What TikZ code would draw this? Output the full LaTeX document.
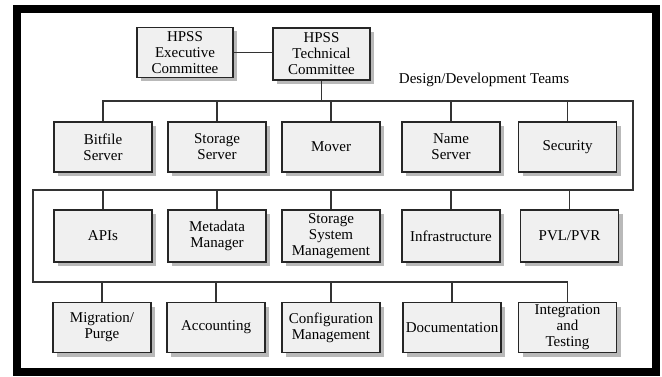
\documentclass[tikz,border=0pt]{standalone}
\usepackage{fontspec}
\setmainfont{Liberation Serif}
\usepackage{tikz}
\usetikzlibrary{shadows}

\begin{document}
\begin{tikzpicture}[x=1pt, y=-1pt,
  unit/.style={draw=black!85, line width=1.3pt, rectangle, fill=gray!12,
    minimum width=98pt, minimum height=50pt, inner sep=2pt, align=center,
    font=\fontsize{15}{16}\selectfont,
    drop shadow={shadow xshift=4pt, shadow yshift=-4pt, fill=gray!55, opacity=1}},
  link/.style={draw=black!80, line width=1.1pt}]
  \useasboundingbox (0,0) rectangle (662,377);
  % Frame
  \draw[line width=8.5pt] (17,9) rectangle (656,372);

  % Committees
  \node[unit, minimum width=96pt] (exec) at (185,52.5) {HPSS\\Executive\\Committee};
  \node[unit, minimum width=97pt, minimum height=52pt] (tech) at (321.5,54) {HPSS\\Technical\\Committee};
  \node[font=\fontsize{15}{16}\selectfont] (teams) at (484,80) {Design/Development Teams};

  % First row of teams
  \node[unit] (bitfile) at (103,147) {Bitfile\\Server};
  \node[unit] (storage) at (217,147) {Storage\\Server};
  \node[unit] (mover) at (331,147) {Mover};
  \node[unit] (name) at (451,147) {Name\\Server};
  \node[unit] (security) at (567.5,147) {Security};

  % Second row
  \node[unit, minimum height=52pt] (apis) at (103,236) {APIs};
  \node[unit, minimum height=52pt] (metadata) at (217,236) {Metadata\\Manager};
  \node[unit, minimum height=52pt] (ssm) at (331,236) {Storage\\System\\Management};
  \node[unit, minimum height=52pt] (infra) at (451,236) {Infrastructure};
  \node[unit, minimum height=52pt] (pvl) at (569.5,236) {PVL/PVR};

  % Third row
  \node[unit] (migration) at (102,327.5) {Migration/\\Purge};
  \node[unit] (accounting) at (216,327.5) {Accounting};
  \node[unit] (config) at (331,327.5) {Configuration\\Management};
  \node[unit] (docs) at (452,327.5) {Documentation};
  \node[unit] (integ) at (567.5,327.5) {Integration\\and\\Testing};

  % Bus corners
  \coordinate (busNE) at (633,101);
  \coordinate (busSE) at (633,190);
  \coordinate (busSW) at (33,190);
  \coordinate (busLow) at (33,282);

  % Relationships
  \draw[link] (exec.east) -- (exec.east -| tech.west);
  \draw[link] (tech.south) -- (tech.south |- busNE);
  \draw[link] (bitfile.north) |- (busNE) -- (busSE) -- (busSW) -- (busLow) -| (integ.north);
  \foreach \b in {storage, mover, name, security}
    \draw[link] (\b.north) -- (\b.north |- busNE);
  \foreach \b in {apis, metadata, ssm, infra, pvl}
    \draw[link] (\b.north) -- (\b.north |- busSE);
  \foreach \b in {migration, accounting, config, docs}
    \draw[link] (\b.north) -- (\b.north |- busLow);
\end{tikzpicture}
\end{document}
